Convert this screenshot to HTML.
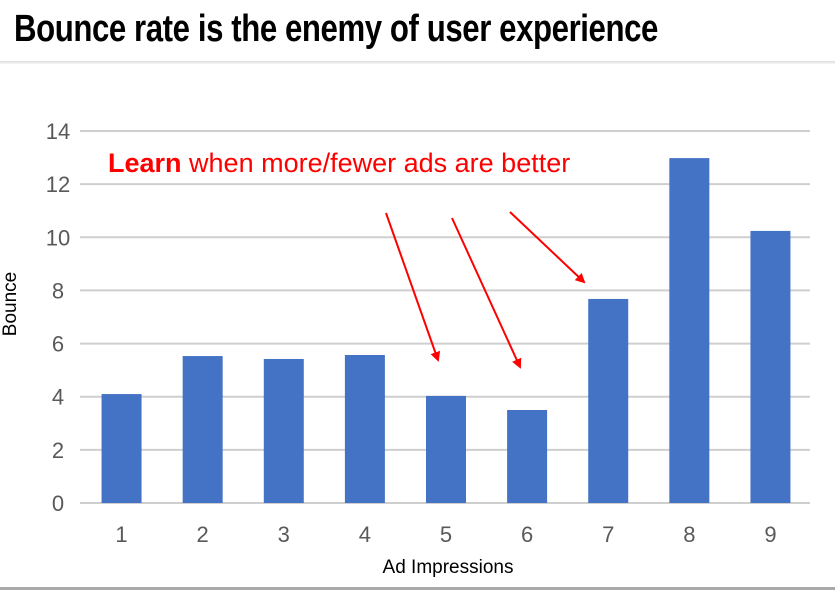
<!DOCTYPE html>
<html><head><meta charset="utf-8"><style>
body{margin:0;width:835px;height:590px;background:#fff;overflow:hidden;position:relative;font-family:"Liberation Sans",sans-serif}
#title{position:absolute;left:14px;top:8px;font-family:"Liberation Sans Narrow","Liberation Sans",sans-serif;font-weight:bold;font-size:38px;color:#000;transform:scaleX(0.82);transform-origin:left top;white-space:nowrap;letter-spacing:-0.5px}
#rule{position:absolute;left:0;top:61px;width:835px;height:3px;background:linear-gradient(#ddd,#f6f6f6)}
#bottom{position:absolute;left:0;top:587px;width:835px;height:3px;background:#aaa}
svg{position:absolute;left:0;top:0}
</style></head><body>
<div id="title">Bounce rate is the enemy of user experience</div>
<div id="rule"></div>
<div id="bottom"></div>
<svg id="chart" width="835" height="590"></svg>
<script>
const categories=["1","2","3","4","5","6","7","8","9"];
const bounce=[4.1,5.53,5.42,5.57,4.03,3.5,7.68,12.98,10.24];
const yTicks=[0,2,4,6,8,10,12,14];
const NS="http://www.w3.org/2000/svg";
const svg=document.getElementById('chart');
const x0=80,x1=810,y0=503,yTop=131,yMax=14;
const band=(x1-x0)/categories.length;
function xc(i){return x0+band*(i+0.5)+1;}
function y(v){return y0-(y0-yTop)*v/yMax;}
function mk(t,a){const e=document.createElementNS(NS,t);for(const k in a)e.setAttribute(k,a[k]);svg.appendChild(e);return e;}
yTicks.forEach(t=>{
 const l=mk('line',{x1:x0,x2:x1,y1:y(t),y2:y(t),stroke:'#cfcfcf','stroke-width':2});
 
 
 const tx=mk('text',{x:58,y:y(t)+8,'text-anchor':'middle','font-size':22,fill:'#595959','font-family':'Liberation Sans, sans-serif'});
 tx.textContent=t;
 
 
});
categories.forEach((c,i)=>{
 const r=mk('rect',{x:xc(i)-20,y:y(bounce[i]),width:40,height:y0-y(bounce[i]),fill:'#4472c4'});
 
 
 const tx=mk('text',{x:xc(i),y:542,'text-anchor':'middle','font-size':22,fill:'#595959','font-family':'Liberation Sans, sans-serif'});
 tx.textContent=c;
 
 
});
const xt=mk('text',{x:448,y:573,'text-anchor':'middle','font-size':19,fill:'#000'});
xt.textContent='Ad Impressions';


const yt=mk('text',{x:0,y:0,'text-anchor':'middle','font-size':19,fill:'#000',transform:'translate(16,304) rotate(-90)'});
yt.textContent='Bounce';


const ann=mk('text',{x:108,y:172,'font-size':27,fill:'#ff0000'});
ann.innerHTML='<tspan font-weight="bold">Learn</tspan> when more/fewer ads are better';


const defs=mk('defs',{});
defs.innerHTML='<marker id="ah" markerWidth="10" markerHeight="10" refX="8" refY="5" orient="auto" markerUnits="userSpaceOnUse"><path d="M0,0 L10,5 L0,10 z" fill="#f00"/></marker>';
[[386,213,438,360],[452,218,520,367],[510,212,584,282]].forEach((a,i)=>{
 const l=mk('line',{x1:a[0],y1:a[1],x2:a[2],y2:a[3],stroke:'#f00','stroke-width':2,'marker-end':'url(#ah)'});
 
 
});
</script>
</body></html>
